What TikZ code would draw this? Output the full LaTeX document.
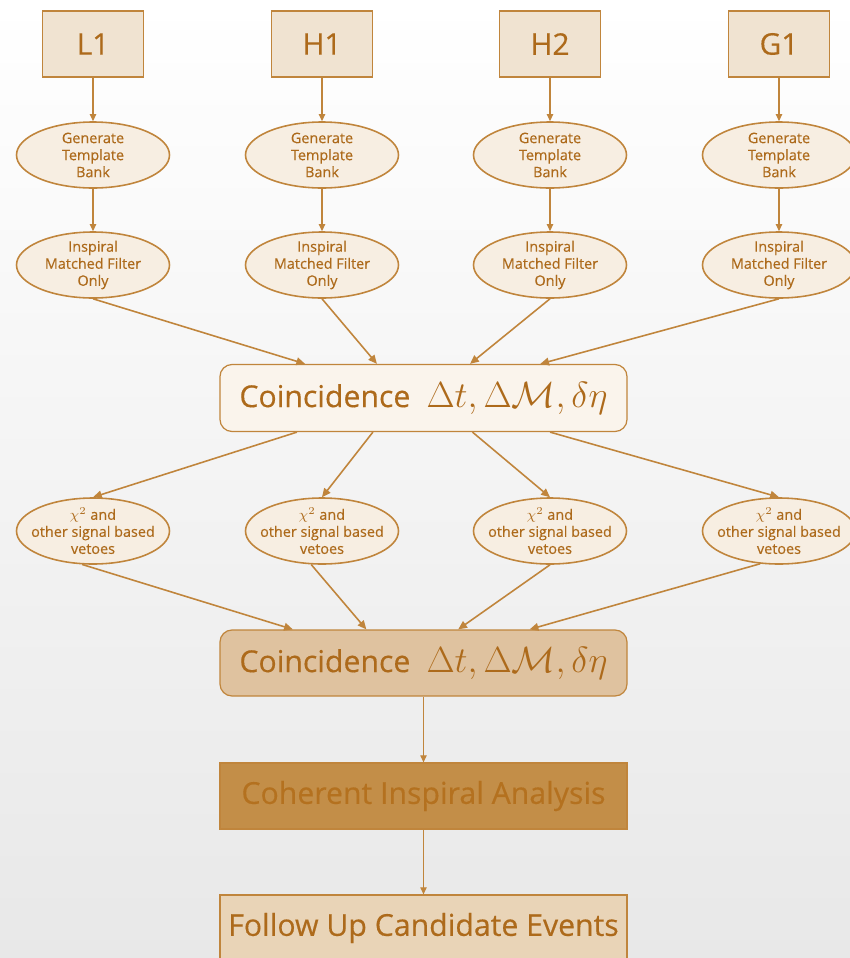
\documentclass[tikz,border=0pt]{standalone}
\usepackage{fontspec}
\setmainfont{Open Sans}[FakeBold=0.35]
\usetikzlibrary{shapes.geometric,arrows.meta,calc}

\definecolor{edge}{HTML}{C0853C}
\definecolor{ink}{HTML}{AD6A1B}
\definecolor{ifofill}{HTML}{F0E3D1}
\definecolor{stagefill}{HTML}{F7EEE2}
\definecolor{coincfill}{HTML}{FAF4EC}
\definecolor{vetofill}{HTML}{DFC29F}
\definecolor{cohfill}{HTML}{C38E48}
\definecolor{cohink}{HTML}{B4711F}
\definecolor{followfill}{HTML}{E9D4B7}

\tikzset{
  ifo/.style={rectangle, draw=edge, line width=0.7pt, fill=ifofill, text=ink, minimum width=2.02cm, minimum height=1.32cm, font=\fontsize{17}{20}\selectfont},
  stage/.style={ellipse, draw=edge, line width=0.9pt, fill=stagefill, text=ink, minimum width=3.06cm, minimum height=1.32cm, inner xsep=-12pt, inner ysep=-4pt, align=center, font=\fontsize{8.2}{9.7}\selectfont},
  wide/.style={rectangle, draw=edge, line width=0.7pt, text=ink, minimum width=8.14cm, minimum height=1.32cm, font=\fontsize{17.2}{19}\selectfont},
  flow/.style={draw=edge, line width=0.6pt, -{Triangle[length=4pt,width=3.6pt]}},
  merge/.style={draw=edge, line width=0.9pt, -{Triangle[length=5pt,width=4.4pt]}}
}

\begin{document}
\begin{tikzpicture}
  % fundo
  \shade[top color=white, bottom color=black!9] (0,0) rectangle (17,-19.16);
  \useasboundingbox (0,0) rectangle (17,-19.16);

  % detectores
  \node at (1.86,-0.88) (l1) [ifo] {L1};
  \node at (6.44,-0.88) (h1) [ifo] {H1};
  \node at (11.00,-0.88) (h2) [ifo] {H2};
  \node at (15.58,-0.88) (g1) [ifo] {G1};

  % bancos de templates
  \node at (1.86,-3.10) (bankL1) [stage] {Generate\\Template\\Bank};
  \node at (6.44,-3.10) (bankH1) [stage] {Generate\\Template\\Bank};
  \node at (11.00,-3.10) (bankH2) [stage] {Generate\\Template\\Bank};
  \node at (15.58,-3.10) (bankG1) [stage] {Generate\\Template\\Bank};

  % filtro casado
  \node at (1.86,-5.30) (filtL1) [stage] {Inspiral\\Matched Filter\\Only};
  \node at (6.44,-5.30) (filtH1) [stage] {Inspiral\\Matched Filter\\Only};
  \node at (11.00,-5.30) (filtH2) [stage] {Inspiral\\Matched Filter\\Only};
  \node at (15.58,-5.30) (filtG1) [stage] {Inspiral\\Matched Filter\\Only};

  % primeira coincidencia
  \node at (8.47,-7.96) (coincA) [wide, rounded corners=0.24cm, fill=coincfill, minimum height=1.34cm] {Coincidence \;{\fontsize{21}{22}\selectfont$\Delta t, \Delta\mathcal{M}, \delta\eta$}};

  % vetos
  \node at (1.86,-10.62) (vetoL1) [stage] {$\chi^2$ and\\other signal based\\vetoes};
  \node at (6.44,-10.62) (vetoH1) [stage] {$\chi^2$ and\\other signal based\\vetoes};
  \node at (11.00,-10.62) (vetoH2) [stage] {$\chi^2$ and\\other signal based\\vetoes};
  \node at (15.58,-10.62) (vetoG1) [stage] {$\chi^2$ and\\other signal based\\vetoes};

  % segunda coincidencia e analise coerente
  \node at (8.47,-13.26) (coincB) [wide, rounded corners=0.24cm, fill=vetofill] {Coincidence \;{\fontsize{21}{22}\selectfont$\Delta t, \Delta\mathcal{M}, \delta\eta$}};
  \node at (8.47,-15.92) (coh) [wide, fill=cohfill, text=cohink] {Coherent Inspiral Analysis};
  \node at (8.47,-18.56) (follow) [wide, fill=followfill] {Follow Up Candidate Events};

  % setas verticais
  \draw[flow] (l1) -- (bankL1);
  \draw[flow] (h1) -- (bankH1);
  \draw[flow] (h2) -- (bankH2);
  \draw[flow] (g1) -- (bankG1);
  \draw[flow] (bankL1) -- (filtL1);
  \draw[flow] (bankH1) -- (filtH1);
  \draw[flow] (bankH2) -- (filtH2);
  \draw[flow] (bankG1) -- (filtG1);

  % para a primeira coincidencia
  \draw[merge] (filtL1.south) -- ($(coincA.north west)!0.21!(coincA.north east)$);
  \draw[merge] (filtH1.south) -- ($(coincA.north west)!0.386!(coincA.north east)$);
  \draw[merge] (filtH2.south) -- ($(coincA.north west)!0.614!(coincA.north east)$);
  \draw[merge] (filtG1.south) -- ($(coincA.north west)!0.786!(coincA.north east)$);

  % para os vetos
  \draw[merge] ($(coincA.south west)!0.19!(coincA.south east)$) -- (vetoL1.north);
  \draw[merge] ($(coincA.south west)!0.376!(coincA.south east)$) -- (vetoH1.north);
  \draw[merge] ($(coincA.south west)!0.62!(coincA.south east)$) -- (vetoH2.north);
  \draw[merge] ($(coincA.south west)!0.81!(coincA.south east)$) -- (vetoG1.north);

  % para a segunda coincidencia
  \draw[merge] (vetoL1.252) -- ($(coincB.north west)!0.18!(coincB.north east)$);
  \draw[merge] (vetoH1.252) -- ($(coincB.north west)!0.36!(coincB.north east)$);
  \draw[merge] (vetoH2.south) -- ($(coincB.north west)!0.585!(coincB.north east)$);
  \draw[merge] (vetoG1.240) -- ($(coincB.north west)!0.76!(coincB.north east)$);

  \draw[flow] (coincB) -- (coh);
  \draw[flow] (coh) -- (follow);
\end{tikzpicture}
\end{document}
